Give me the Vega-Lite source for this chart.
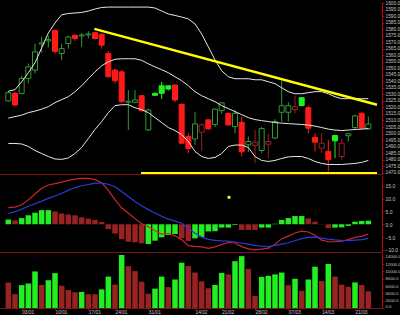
{
  "$schema": "https://vega.github.io/schema/vega-lite/v6.json",
  "background": "#000000",
  "padding": 0,
  "spacing": 0,
  "config": {
    "view": {"stroke": null},
    "axis": {"grid": false, "labelFont": "Liberation Sans", "labelFontSize": 5, "labelColor": "#c4c4c4", "tickColor": "#8b1010", "tickSize": 2, "labelPadding": 1, "domainColor": "#c00000", "labelOverlap": false, "title": null}
  },
  "datasets": {
    "candles": [
      {"i":1,"o":1525.0,"h":1532.5,"l":1524.5,"c":1531.3,"k":"U","up":1532.4,"mid":1511.8,"lo":1492.4},
      {"i":2,"o":1530.8,"h":1532.0,"l":1521.0,"c":1521.9,"k":"D","up":1533.6,"mid":1513.0,"lo":1492.4},
      {"i":3,"o":1530.8,"h":1544.3,"l":1530.0,"c":1542.2,"k":"U","up":1539.7,"mid":1514.1,"lo":1492.0},
      {"i":4,"o":1542.2,"h":1553.7,"l":1538.4,"c":1551.1,"k":"U","up":1546.6,"mid":1516.0,"lo":1490.1},
      {"i":5,"o":1548.6,"h":1568.9,"l":1546.0,"c":1562.6,"k":"U","up":1554.2,"mid":1517.2,"lo":1487.0},
      {"i":6,"o":1568.5,"h":1574.0,"l":1562.0,"c":1569.5,"k":"U","up":1565.6,"mid":1518.7,"lo":1484.7},
      {"i":7,"o":1571.0,"h":1575.0,"l":1566.0,"c":1572.0,"k":"U","up":1577.1,"mid":1520.6,"lo":1482.4},
      {"i":8,"o":1579.0,"h":1579.5,"l":1561.3,"c":1563.0,"k":"D","up":1584.7,"mid":1523.7,"lo":1480.5},
      {"i":9,"o":1561.3,"h":1568.9,"l":1556.2,"c":1565.1,"k":"U","up":1591.0,"mid":1526.0,"lo":1480.2},
      {"i":10,"o":1569.0,"h":1575.0,"l":1565.0,"c":1574.0,"k":"U","up":1592.0,"mid":1528.2,"lo":1481.3},
      {"i":11,"o":1575.3,"h":1576.0,"l":1571.0,"c":1572.8,"k":"D","up":1592.4,"mid":1532.1,"lo":1484.7},
      {"i":12,"o":1574.8,"h":1577.0,"l":1566.4,"c":1575.5,"k":"U","up":1592.8,"mid":1536.6,"lo":1489.3},
      {"i":13,"o":1575.6,"h":1578.4,"l":1572.8,"c":1576.3,"k":"U","up":1593.9,"mid":1542.0,"lo":1496.2},
      {"i":14,"o":1577.3,"h":1578.0,"l":1572.0,"c":1572.8,"k":"D","up":1595.4,"mid":1547.3,"lo":1503.1},
      {"i":15,"o":1576.0,"h":1577.0,"l":1565.0,"c":1567.7,"k":"D","up":1596.6,"mid":1551.9,"lo":1509.2},
      {"i":16,"o":1561.3,"h":1563.1,"l":1543.0,"c":1543.5,"k":"D","up":1596.9,"mid":1555.0,"lo":1516.0},
      {"i":17,"o":1548.6,"h":1549.8,"l":1538.4,"c":1540.5,"k":"D","up":1596.9,"mid":1556.9,"lo":1521.4},
      {"i":18,"o":1547.3,"h":1548.6,"l":1523.5,"c":1524.4,"k":"D","up":1596.9,"mid":1557.3,"lo":1522.1},
      {"i":19,"o":1524.0,"h":1533.3,"l":1502.8,"c":1524.8,"k":"U","up":1596.9,"mid":1557.3,"lo":1522.1},
      {"i":20,"o":1523.9,"h":1533.3,"l":1523.5,"c":1525.7,"k":"U","up":1596.9,"mid":1557.3,"lo":1519.8},
      {"i":21,"o":1529.0,"h":1529.5,"l":1517.0,"c":1517.4,"k":"D","up":1596.9,"mid":1556.1,"lo":1518.3},
      {"i":22,"o":1502.8,"h":1519.0,"l":1502.0,"c":1518.1,"k":"U","up":1596.9,"mid":1553.4,"lo":1516.0},
      {"i":23,"o":1530.8,"h":1531.5,"l":1528.8,"c":1529.3,"k":"G","up":1596.2,"mid":1551.1,"lo":1512.2},
      {"i":24,"o":1536.6,"h":1539.7,"l":1526.5,"c":1530.8,"k":"G","up":1593.9,"mid":1548.9,"lo":1508.4},
      {"i":25,"o":1536.6,"h":1537.2,"l":1533.0,"c":1534.1,"k":"G","up":1591.6,"mid":1546.6,"lo":1504.6},
      {"i":26,"o":1537.2,"h":1537.5,"l":1524.0,"c":1525.7,"k":"D","up":1590.5,"mid":1543.5,"lo":1502.3},
      {"i":27,"o":1522.4,"h":1523.0,"l":1492.0,"c":1492.6,"k":"D","up":1589.3,"mid":1540.5,"lo":1499.2},
      {"i":28,"o":1497.7,"h":1500.2,"l":1485.0,"c":1488.5,"k":"D","up":1587.8,"mid":1536.6,"lo":1493.9},
      {"i":29,"o":1495.9,"h":1516.3,"l":1491.4,"c":1507.4,"k":"U","up":1584.0,"mid":1532.1,"lo":1486.3},
      {"i":30,"o":1501.0,"h":1507.9,"l":1486.8,"c":1506.6,"k":"R","up":1576.3,"mid":1529.0,"lo":1482.4},
      {"i":31,"o":1510.5,"h":1511.0,"l":1503.0,"c":1503.6,"k":"D","up":1566.4,"mid":1526.7,"lo":1480.9},
      {"i":32,"o":1507.0,"h":1519.2,"l":1505.0,"c":1518.7,"k":"U","up":1556.5,"mid":1524.4,"lo":1481.7},
      {"i":33,"o":1517.5,"h":1524.0,"l":1515.0,"c":1523.5,"k":"U","up":1548.1,"mid":1521.4,"lo":1484.7},
      {"i":34,"o":1515.5,"h":1516.0,"l":1506.0,"c":1506.6,"k":"D","up":1543.5,"mid":1519.1,"lo":1490.1},
      {"i":35,"o":1505.3,"h":1518.1,"l":1500.2,"c":1515.5,"k":"U","up":1542.0,"mid":1516.8,"lo":1491.2},
      {"i":36,"o":1508.6,"h":1512.9,"l":1482.4,"c":1486.0,"k":"D","up":1542.0,"mid":1514.5,"lo":1491.2},
      {"i":37,"o":1491.4,"h":1497.7,"l":1485.8,"c":1493.9,"k":"U","up":1542.0,"mid":1512.2,"lo":1489.3},
      {"i":38,"o":1490.9,"h":1502.8,"l":1477.3,"c":1493.4,"k":"R","up":1541.2,"mid":1510.7,"lo":1482.4},
      {"i":39,"o":1487.0,"h":1505.0,"l":1485.0,"c":1503.8,"k":"U","up":1541.2,"mid":1509.9,"lo":1479.4},
      {"i":40,"o":1491.8,"h":1500.0,"l":1481.2,"c":1493.9,"k":"R","up":1539.7,"mid":1509.2,"lo":1478.6},
      {"i":41,"o":1496.6,"h":1511.0,"l":1495.5,"c":1509.2,"k":"U","up":1538.2,"mid":1508.4,"lo":1479.4},
      {"i":42,"o":1516.3,"h":1540.2,"l":1509.2,"c":1521.3,"k":"U","up":1535.1,"mid":1508.0,"lo":1480.9},
      {"i":43,"o":1516.3,"h":1524.0,"l":1509.2,"c":1521.3,"k":"U","up":1532.1,"mid":1507.6,"lo":1482.1},
      {"i":44,"o":1518.3,"h":1529.0,"l":1515.5,"c":1520.6,"k":"R","up":1530.5,"mid":1507.3,"lo":1482.4},
      {"i":45,"o":1527.5,"h":1528.0,"l":1521.0,"c":1521.4,"k":"G","up":1530.5,"mid":1506.9,"lo":1482.4},
      {"i":46,"o":1519.8,"h":1521.4,"l":1500.0,"c":1504.1,"k":"D","up":1531.3,"mid":1506.5,"lo":1480.9},
      {"i":47,"o":1497.0,"h":1500.2,"l":1486.3,"c":1493.4,"k":"D","up":1532.1,"mid":1505.7,"lo":1478.6},
      {"i":48,"o":1488.8,"h":1500.2,"l":1485.0,"c":1492.6,"k":"R","up":1532.1,"mid":1504.6,"lo":1477.1},
      {"i":49,"o":1486.3,"h":1495.2,"l":1471.0,"c":1479.9,"k":"D","up":1530.5,"mid":1503.4,"lo":1476.3},
      {"i":50,"o":1498.5,"h":1499.0,"l":1481.2,"c":1494.4,"k":"G","up":1528.2,"mid":1502.7,"lo":1476.3},
      {"i":51,"o":1482.4,"h":1496.0,"l":1480.0,"c":1492.6,"k":"R","up":1526.7,"mid":1502.3,"lo":1476.3},
      {"i":52,"o":1498.3,"h":1500.5,"l":1494.0,"c":1499.8,"k":"U","up":1526.7,"mid":1502.7,"lo":1476.7},
      {"i":53,"o":1504.6,"h":1514.5,"l":1503.0,"c":1513.5,"k":"U","up":1526.7,"mid":1503.1,"lo":1477.1},
      {"i":54,"o":1515.5,"h":1516.5,"l":1503.3,"c":1504.1,"k":"D","up":1526.7,"mid":1503.4,"lo":1477.9},
      {"i":55,"o":1503.6,"h":1513.0,"l":1502.8,"c":1507.3,"k":"U","up":1526.7,"mid":1503.8,"lo":1479.4}
    ],
    "trend": [
      {"i":13.9,"p":1580.2,"g":"t"},
      {"i":56.3,"p":1522.1,"g":"t"},
      {"i":20.9,"p":1469.6,"g":"h"},
      {"i":56.3,"p":1469.6,"g":"h"}
    ],
    "ind": [
      {"i":1,"m":6.5,"s":4.2,"h":1.9,"hd":"G","v":7000,"vd":"R"},
      {"i":2,"m":6.7,"s":4.9,"h":1.5,"hd":"R","v":3800,"vd":"R"},
      {"i":3,"m":7.6,"s":5.9,"h":2.4,"hd":"G","v":6250,"vd":"G"},
      {"i":4,"m":9.5,"s":7.0,"h":3.5,"hd":"G","v":6700,"vd":"G"},
      {"i":5,"m":11.8,"s":8.0,"h":4.5,"hd":"G","v":10000,"vd":"G"},
      {"i":6,"m":14.0,"s":9.0,"h":5.5,"hd":"G","v":6300,"vd":"R"},
      {"i":7,"m":15.3,"s":10.1,"h":5.5,"hd":"G","v":7600,"vd":"G"},
      {"i":8,"m":15.8,"s":11.0,"h":5.0,"hd":"R","v":9550,"vd":"G"},
      {"i":9,"m":16.4,"s":12.0,"h":4.2,"hd":"R","v":6100,"vd":"R"},
      {"i":10,"m":17.1,"s":13.3,"h":3.8,"hd":"R","v":4900,"vd":"R"},
      {"i":11,"m":17.6,"s":14.3,"h":3.5,"hd":"R","v":4300,"vd":"R"},
      {"i":12,"m":17.9,"s":15.0,"h":2.7,"hd":"R","v":4400,"vd":"G"},
      {"i":13,"m":17.9,"s":15.5,"h":2.2,"hd":"R","v":3800,"vd":"R"},
      {"i":14,"m":17.4,"s":16.0,"h":1.7,"hd":"R","v":3750,"vd":"R"},
      {"i":15,"m":16.2,"s":16.0,"h":0.9,"hd":"R","v":5100,"vd":"G"},
      {"i":16,"m":13.2,"s":15.6,"h":-1.9,"hd":"R","v":8600,"vd":"G"},
      {"i":17,"m":9.6,"s":14.6,"h":-3.6,"hd":"R","v":6400,"vd":"R"},
      {"i":18,"m":6.4,"s":12.8,"h":-5.8,"hd":"R","v":14500,"vd":"G"},
      {"i":19,"m":4.3,"s":10.8,"h":-6.8,"hd":"R","v":11400,"vd":"R"},
      {"i":20,"m":2.2,"s":8.9,"h":-7.0,"hd":"R","v":10100,"vd":"R"},
      {"i":21,"m":0.2,"s":7.2,"h":-7.4,"hd":"R","v":7200,"vd":"R"},
      {"i":22,"m":-1.0,"s":5.7,"h":-7.7,"hd":"G","v":3900,"vd":"R"},
      {"i":23,"m":-2.5,"s":4.4,"h":-6.4,"hd":"G","v":5300,"vd":"G"},
      {"i":24,"m":-3.8,"s":3.1,"h":-5.1,"hd":"G","v":8600,"vd":"G"},
      {"i":25,"m":-3.6,"s":2.0,"h":-4.2,"hd":"G","v":5700,"vd":"R"},
      {"i":26,"m":-4.5,"s":1.2,"h":-3.8,"hd":"G","v":7800,"vd":"G"},
      {"i":27,"m":-6.0,"s":0.4,"h":-5.5,"hd":"R","v":12400,"vd":"G"},
      {"i":28,"m":-8.3,"s":-1.5,"h":-6.5,"hd":"R","v":11500,"vd":"R"},
      {"i":29,"m":-8.6,"s":-3.5,"h":-5.5,"hd":"G","v":9700,"vd":"R"},
      {"i":30,"m":-8.8,"s":-5.0,"h":-4.9,"hd":"G","v":7300,"vd":"R"},
      {"i":31,"m":-9.4,"s":-5.9,"h":-2.8,"hd":"G","v":5400,"vd":"R"},
      {"i":32,"m":-8.8,"s":-6.3,"h":-2.7,"hd":"G","v":6300,"vd":"G"},
      {"i":33,"m":-7.9,"s":-6.5,"h":-1.3,"hd":"G","v":9600,"vd":"G"},
      {"i":34,"m":-7.1,"s":-6.6,"h":-1.3,"hd":"G","v":9200,"vd":"R"},
      {"i":35,"m":-7.3,"s":-6.9,"h":-0.3,"hd":"G","v":12800,"vd":"G"},
      {"i":36,"m":-8.7,"s":-7.3,"h":-2.2,"hd":"R","v":14200,"vd":"G"},
      {"i":37,"m":-9.6,"s":-7.7,"h":-2.2,"hd":"R","v":10700,"vd":"R"},
      {"i":38,"m":-10.0,"s":-8.2,"h":-2.2,"hd":"R","v":3300,"vd":"R"},
      {"i":39,"m":-9.7,"s":-8.5,"h":-1.3,"hd":"G","v":8500,"vd":"G"},
      {"i":40,"m":-9.3,"s":-8.7,"h":-1.3,"hd":"G","v":8800,"vd":"G"},
      {"i":41,"m":-7.8,"s":-8.2,"h":0.2,"hd":"G","v":9200,"vd":"G"},
      {"i":42,"m":-5.6,"s":-7.7,"h":1.7,"hd":"G","v":9700,"vd":"G"},
      {"i":43,"m":-4.6,"s":-7.2,"h":2.4,"hd":"G","v":6250,"vd":"R"},
      {"i":44,"m":-3.4,"s":-6.4,"h":3.2,"hd":"G","v":8000,"vd":"G"},
      {"i":45,"m":-2.7,"s":-5.6,"h":3.2,"hd":"G","v":4700,"vd":"R"},
      {"i":46,"m":-3.0,"s":-5.1,"h":2.3,"hd":"R","v":7800,"vd":"G"},
      {"i":47,"m":-4.3,"s":-5.0,"h":1.0,"hd":"R","v":11300,"vd":"G"},
      {"i":48,"m":-6.2,"s":-5.4,"h":0.1,"hd":"R","v":7400,"vd":"R"},
      {"i":49,"m":-6.8,"s":-5.8,"h":-1.5,"hd":"R","v":12050,"vd":"G"},
      {"i":50,"m":-6.8,"s":-6.1,"h":-1.3,"hd":"G","v":8600,"vd":"R"},
      {"i":51,"m":-6.6,"s":-6.3,"h":-1.2,"hd":"G","v":6400,"vd":"R"},
      {"i":52,"m":-6.0,"s":-6.4,"h":-0.6,"hd":"G","v":5800,"vd":"R"},
      {"i":53,"m":-5.1,"s":-6.2,"h":1.0,"hd":"G","v":7000,"vd":"G"},
      {"i":54,"m":-4.7,"s":-6.0,"h":1.3,"hd":"G","v":6300,"vd":"R"},
      {"i":55,"m":-3.8,"s":-5.5,"h":1.4,"hd":"G","v":4550,"vd":"R"}
    ],
    "dot": [{"i":34.1,"y":10.5}]
  },
  "vconcat": [
    {
      "width": 382,
      "height": 172,
      "data": {"name": "candles"},
      "encoding": {
        "x": {"field": "i", "type": "quantitative", "scale": {"domain": [0.5, 56.3], "nice": false, "zero": false}, "axis": {"labels": false, "ticks": false, "domainColor": "#7a1414"}}
      },
      "layer": [
        {
          "mark": {"type": "rule", "strokeWidth": 1},
          "encoding": {
            "y": {"field": "l", "type": "quantitative", "scale": {"domain": [1469.0, 1600.8], "nice": false, "zero": false}, "axis": {"orient": "right", "values": [1470,1475,1480,1485,1490,1495,1500,1505,1510,1515,1520,1525,1530,1535,1540,1545,1550,1555,1560,1565,1570,1575,1580,1585,1590,1595,1600], "format": ".1f", "labelOverlap": false, "labelFontSize": 4.8, "labelFlush": true}},
            "y2": {"field": "h"},
            "color": {"field": "k", "type": "nominal", "scale": {"domain": ["U","D","G","R"], "range": ["#339933","#ff1a1a","#22ee22","#992222"]}, "legend": null}
          }
        },
        {
          "mark": {"type": "bar", "size": 5, "strokeWidth": 1},
          "encoding": {
            "y": {"field": "o", "type": "quantitative", "scale": {"domain": [1469.0, 1600.8], "nice": false, "zero": false}, "axis": {"orient": "right", "values": [1470,1475,1480,1485,1490,1495,1500,1505,1510,1515,1520,1525,1530,1535,1540,1545,1550,1555,1560,1565,1570,1575,1580,1585,1590,1595,1600], "format": ".1f", "labelOverlap": false, "labelFontSize": 4.8, "labelFlush": true}},
            "y2": {"field": "c"},
            "fill": {"field": "k", "type": "nominal", "scale": {"domain": ["U","D","G","R"], "range": ["#000000","#ff1a1a","#22ee22","#000000"]}, "legend": null},
            "stroke": {"field": "k", "type": "nominal", "scale": {"domain": ["U","D","G","R"], "range": ["#339933","#ff1a1a","#22ee22","#992222"]}, "legend": null}
          }
        },
        {
          "mark": {"type": "line", "color": "#e6e6e6", "strokeWidth": 1, "clip": true},
          "encoding": {"y": {"field": "up", "type": "quantitative", "scale": {"domain": [1469.0, 1600.8], "nice": false, "zero": false}, "axis": {"orient": "right", "values": [1470,1475,1480,1485,1490,1495,1500,1505,1510,1515,1520,1525,1530,1535,1540,1545,1550,1555,1560,1565,1570,1575,1580,1585,1590,1595,1600], "format": ".1f", "labelOverlap": false, "labelFontSize": 4.8, "labelFlush": true}}}
        },
        {
          "mark": {"type": "line", "color": "#e6e6e6", "strokeWidth": 1, "clip": true},
          "encoding": {"y": {"field": "mid", "type": "quantitative", "scale": {"domain": [1469.0, 1600.8], "nice": false, "zero": false}, "axis": {"orient": "right", "values": [1470,1475,1480,1485,1490,1495,1500,1505,1510,1515,1520,1525,1530,1535,1540,1545,1550,1555,1560,1565,1570,1575,1580,1585,1590,1595,1600], "format": ".1f", "labelOverlap": false, "labelFontSize": 4.8, "labelFlush": true}}}
        },
        {
          "mark": {"type": "line", "color": "#e6e6e6", "strokeWidth": 1, "clip": true},
          "encoding": {"y": {"field": "lo", "type": "quantitative", "scale": {"domain": [1469.0, 1600.8], "nice": false, "zero": false}, "axis": {"orient": "right", "values": [1470,1475,1480,1485,1490,1495,1500,1505,1510,1515,1520,1525,1530,1535,1540,1545,1550,1555,1560,1565,1570,1575,1580,1585,1590,1595,1600], "format": ".1f", "labelOverlap": false, "labelFontSize": 4.8, "labelFlush": true}}}
        },
        {
          "data": {"name": "trend"},
          "mark": {"type": "line", "color": "#ffff00", "strokeWidth": 2.5, "clip": true},
          "encoding": {
            "x": {"field": "i", "type": "quantitative"},
            "y": {"field": "p", "type": "quantitative", "scale": {"domain": [1469.0, 1600.8], "nice": false, "zero": false}, "axis": {"orient": "right", "values": [1470,1475,1480,1485,1490,1495,1500,1505,1510,1515,1520,1525,1530,1535,1540,1545,1550,1555,1560,1565,1570,1575,1580,1585,1590,1595,1600], "format": ".1f", "labelOverlap": false, "labelFontSize": 4.8, "labelFlush": true}},
            "detail": {"field": "g"}
          }
        }
      ]
    },
    {
      "width": 382,
      "height": 76,
      "data": {"name": "ind"},
      "encoding": {
        "x": {"field": "i", "type": "quantitative", "scale": {"domain": [0.5, 56.3], "nice": false, "zero": false}, "axis": {"labels": false, "ticks": false, "domainColor": "#7a1414"}}
      },
      "layer": [
        {
          "mark": {"type": "bar", "size": 5.5},
          "encoding": {
            "y": {"field": "h", "type": "quantitative", "scale": {"domain": [-10.8, 18.8], "nice": false, "zero": false}, "axis": {"orient": "right", "values": [-10,-5,0,5,10,15], "format": ".1f", "labelOverlap": false, "labelFlush": true}},
            "y2": {"datum": 0},
            "color": {"field": "hd", "type": "nominal", "scale": {"domain": ["G","R"], "range": ["#11ee11","#ff1111"]}, "legend": null}
          }
        },
        {
          "mark": {"type": "line", "color": "#c8282d", "strokeWidth": 1.2},
          "encoding": {"y": {"field": "m", "type": "quantitative", "scale": {"domain": [-10.8, 18.8], "nice": false, "zero": false}, "axis": {"orient": "right", "values": [-10,-5,0,5,10,15], "format": ".1f", "labelOverlap": false, "labelFlush": true}}}
        },
        {
          "mark": {"type": "line", "color": "#2a3ad8", "strokeWidth": 1.2},
          "encoding": {"y": {"field": "s", "type": "quantitative", "scale": {"domain": [-10.8, 18.8], "nice": false, "zero": false}, "axis": {"orient": "right", "values": [-10,-5,0,5,10,15], "format": ".1f", "labelOverlap": false, "labelFlush": true}}}
        },
        {
          "data": {"name": "dot"},
          "mark": {"type": "square", "color": "#ffff33", "opacity": 1, "size": 8},
          "encoding": {
            "x": {"field": "i", "type": "quantitative"},
            "y": {"field": "y", "type": "quantitative", "scale": {"domain": [-10.8, 18.8], "nice": false, "zero": false}, "axis": {"orient": "right", "values": [-10,-5,0,5,10,15], "format": ".1f", "labelOverlap": false, "labelFlush": true}}
          }
        }
      ]
    },
    {
      "width": 382,
      "height": 55,
      "data": {"name": "ind"},
      "mark": {"type": "bar", "size": 5.5},
      "encoding": {
        "x": {"field": "i", "type": "quantitative", "scale": {"domain": [0.5, 56.3], "nice": false, "zero": false}, "axis": {"values": [3,8,13,17,22,29,33,38,43,48,53], "labelExpr": "['03/01','10/01','17/01','24/01','31/01','14/02','21/02','28/02','07/03','14/03','21/03'][indexof([3,8,13,17,22,29,33,38,43,48,53], datum.value)]", "labelAlign": "left", "labelFlush": false, "domainColor": "#7a1414", "tickColor": "#c00000", "tickSize": 1.5, "labelPadding": 0, "labelFontSize": 4.8}},
        "y": {"field": "v", "type": "quantitative", "scale": {"domain": [0, 15050], "nice": false}, "axis": {"orient": "right", "values": [0,2000,4000,6000,8000,10000,12000,14000], "format": ".1f", "labelFontSize": 4.2, "labelOverlap": false, "labelFlush": true}},
        "color": {"field": "vd", "type": "nominal", "scale": {"domain": ["G","R"], "range": ["#11ee11","#ff1111"]}, "legend": null}
      }
    }
  ]
}
